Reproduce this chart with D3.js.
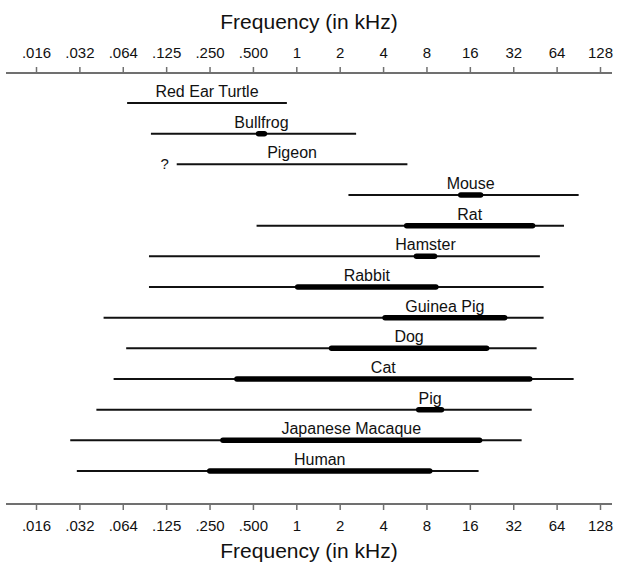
<!DOCTYPE html>
<html>
<head>
<script src="https://cdn.jsdelivr.net/npm/d3@7"></script>
<style>
body {
  margin: 0;
  padding: 0;
  background: #fff;
}
text {
  font-family: "Liberation Sans", Arial, sans-serif;
}
</style>
</head>
<body>
<svg></svg>

<script>
// species, top to bottom
var species = ['Red Ear Turtle', 'Bullfrog', 'Pigeon', 'Mouse', 'Rat', 'Hamster', 'Rabbit',
  'Guinea Pig', 'Dog', 'Cat', 'Pig', 'Japanese Macaque', 'Human'];

// full hearing range (kHz)
var lowFreq = [0.067, 0.098, 0.148, 2.3, 0.53, 0.095, 0.095, 0.046, 0.066, 0.054, 0.041, 0.027, 0.030];
var highFreq = [0.86, 2.6, 5.9, 91, 72, 49, 52, 52, 46.5, 84, 43, 36.6, 18.4];

// best sensitivity region (kHz), null = none drawn
var bestLow = [null, 0.53, null, 13.4, 5.65, 6.6, 0.99, 4.0, 1.7, 0.375, 6.85, 0.30, 0.243];
var bestHigh = [null, 0.62, null, 19.6, 45, 9.4, 9.6, 28.8, 21.6, 43, 10.5, 19.3, 8.7];

// octave ticks
var tickValues = [1/64, 1/32, 1/16, 1/8, 1/4, 1/2, 1, 2, 4, 8, 16, 32, 64, 128];
var tickLabels = ['.016', '.032', '.064', '.125', '.250', '.500', '1', '2', '4', '8', '16', '32', '64', '128'];

var width = 618,
  height = 564;

var svg = d3.select('svg')
  .attr('width', width)
  .attr('height', height);

var x = d3.scaleLog().base(2)
  .domain([1/64, 128])
  .range([36, 600]);

var y = d3.scalePoint()
  .domain(species)
  .range([103, 471]);

var axisColor = '#707070';

function drawAxis(yPos, top) {
  var axis = (top ? d3.axisTop(x) : d3.axisBottom(x))
    .tickValues(tickValues)
    .tickFormat(function(d, i) { return tickLabels[i]; })
    .tickSize(6)
    .tickSizeOuter(0)
    .tickPadding(top ? 9 : 10);

  var g = svg.append('g')
    .attr('transform', 'translate(0,' + yPos + ')')
    .call(axis);

  g.select('.domain').remove();
  g.selectAll('.tick line')
    .attr('stroke', axisColor)
    .attr('stroke-width', 1.5);
  g.selectAll('.tick text')
    .attr('fill', '#111')
    .style('font-size', '15px')
    .style('font-family', '"Liberation Sans", Arial, sans-serif');

  g.append('line')
    .attr('x1', 6)
    .attr('x2', 612)
    .attr('stroke', axisColor)
    .attr('stroke-width', 2);
}

drawAxis(73, true);
drawAxis(504, false);

svg.append('text')
  .attr('x', 309)
  .attr('y', 29)
  .attr('text-anchor', 'middle')
  .style('font-size', '21px')
  .attr('fill', '#111')
  .text('Frequency (in kHz)');

svg.append('text')
  .attr('x', 309)
  .attr('y', 558)
  .attr('text-anchor', 'middle')
  .style('font-size', '21px')
  .attr('fill', '#111')
  .text('Frequency (in kHz)');

var rows = species.map(function(name, i) {
  return {
    name: name,
    lo: lowFreq[i],
    hi: highFreq[i],
    bLo: bestLow[i],
    bHi: bestHigh[i]
  };
});

var row = svg.append('g')
  .selectAll('g')
  .data(rows)
  .enter().append('g')
  .attr('transform', function(d) { return 'translate(0,' + y(d.name) + ')'; });

row.append('line')
  .attr('x1', function(d) { return x(d.lo); })
  .attr('x2', function(d) { return x(d.hi); })
  .attr('stroke', '#111')
  .attr('stroke-width', 2);

row.filter(function(d) { return d.bLo != null; })
  .append('line')
  .attr('x1', function(d) { return x(d.bLo) + 2; })
  .attr('x2', function(d) { return x(d.bHi) - 2; })
  .attr('stroke', '#000')
  .attr('stroke-width', 5.5)
  .attr('stroke-linecap', 'round');

// name sits over the best region, or over the whole range if there is none
row.append('text')
  .attr('x', function(d) {
    if (d.bLo != null) return x(Math.sqrt(d.bLo * d.bHi));
    return x(Math.sqrt(d.lo * d.hi));
  })
  .attr('y', -6)
  .attr('text-anchor', 'middle')
  .style('font-size', '16px')
  .attr('fill', '#111')
  .text(function(d) { return d.name; });

// unknown lower limit for the pigeon
svg.append('text')
  .attr('x', x(lowFreq[2]) - 8)
  .attr('y', y('Pigeon') + 5)
  .attr('text-anchor', 'end')
  .style('font-size', '15px')
  .attr('fill', '#111')
  .text('?');
</script>
</body>
</html>
